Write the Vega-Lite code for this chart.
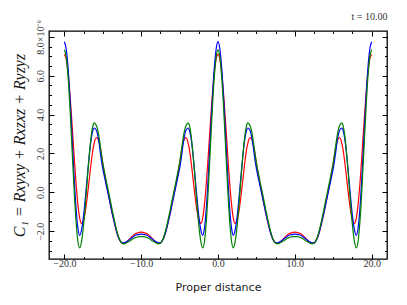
{
"$schema": "https://vega.github.io/schema/vega-lite/v6.json",
"width": 338, "height": 228,
"autosize": "none",
"padding": {"left": 49, "top": 31, "right": 20, "bottom": 46},
"background": "white",
"config": {"view": {"stroke": "#000", "strokeWidth": 1.3}, "axis": {"domain": false, "grid": false}},
"title": {"text": "t = 10.00", "anchor": "end", "font": "Liberation Serif", "fontSize": 10, "fontWeight": "normal", "color": "#333", "offset": -2},
"data": {"values": [
{"x":-20,"r":7.10,"b":7.75,"g":7.33},{"x":-19.75,"r":6.84,"b":7.35,"g":6.94},{"x":-19.5,"r":6.08,"b":6.30,"g":5.84},{"x":-19.25,"r":4.93,"b":4.70,"g":4.18},{"x":-19,"r":3.51,"b":2.85,"g":2.23},{"x":-18.75,"r":1.99,"b":0.95,"g":0.28},{"x":-18.5,"r":0.58,"b":-0.70,"g":-1.38},{"x":-18.25,"r":-0.58,"b":-1.80,"g":-2.49},{"x":-18,"r":-1.34,"b":-2.21,"g":-2.86},{"x":-17.75,"r":-1.60,"b":-1.90,"g":-2.50},{"x":-17.5,"r":-1.42,"b":-1.21,"g":-1.69},{"x":-17.25,"r":-0.92,"b":-0.22,"g":-0.55},{"x":-17,"r":-0.17,"b":0.88,"g":0.74},{"x":-16.75,"r":0.70,"b":1.93,"g":1.96},{"x":-16.5,"r":1.56,"b":2.76,"g":2.92},{"x":-16.25,"r":2.27,"b":3.23,"g":3.48},{"x":-16.1,"r":2.55,"b":3.31,"g":3.57},{"x":-16,"r":2.71,"b":3.29,"g":3.55},{"x":-15.8,"r":2.82,"b":3.16,"g":3.40},{"x":-15.75,"r":2.81,"b":3.10,"g":3.35},{"x":-15.5,"r":2.62,"b":2.60,"g":2.88},{"x":-15.25,"r":2.15,"b":1.85,"g":2.18},{"x":-15,"r":1.50,"b":1.22,"g":1.50},{"x":-14.75,"r":0.90,"b":0.75,"g":1.00},{"x":-14.5,"r":0.35,"b":0.28,"g":0.50},{"x":-14.25,"r":-0.15,"b":-0.18,"g":0.03},{"x":-14,"r":-0.65,"b":-0.65,"g":-0.45},{"x":-13.75,"r":-1.12,"b":-1.12,"g":-0.95},{"x":-13.5,"r":-1.55,"b":-1.55,"g":-1.42},{"x":-13.25,"r":-1.95,"b":-1.95,"g":-1.85},{"x":-13,"r":-2.27,"b":-2.28,"g":-2.22},{"x":-12.75,"r":-2.48,"b":-2.50,"g":-2.48},{"x":-12.5,"r":-2.60,"b":-2.60,"g":-2.62},{"x":-12.25,"r":-2.63,"b":-2.60,"g":-2.65},{"x":-12,"r":-2.58,"b":-2.56,"g":-2.62},{"x":-11.75,"r":-2.50,"b":-2.50,"g":-2.57},{"x":-11.5,"r":-2.40,"b":-2.42,"g":-2.51},{"x":-11.25,"r":-2.29,"b":-2.34,"g":-2.44},{"x":-11,"r":-2.20,"b":-2.27,"g":-2.38},{"x":-10.75,"r":-2.13,"b":-2.21,"g":-2.33},{"x":-10.5,"r":-2.09,"b":-2.18,"g":-2.30},{"x":-10.25,"r":-2.06,"b":-2.16,"g":-2.28},
{"x":-10,"r":-2.05,"b":-2.15,"g":-2.28},{"x":-9.75,"r":-2.06,"b":-2.16,"g":-2.28},{"x":-9.5,"r":-2.09,"b":-2.18,"g":-2.30},{"x":-9.25,"r":-2.13,"b":-2.21,"g":-2.33},{"x":-9,"r":-2.20,"b":-2.27,"g":-2.38},{"x":-8.75,"r":-2.29,"b":-2.34,"g":-2.44},{"x":-8.5,"r":-2.40,"b":-2.42,"g":-2.51},{"x":-8.25,"r":-2.50,"b":-2.50,"g":-2.57},{"x":-8,"r":-2.58,"b":-2.56,"g":-2.62},{"x":-7.75,"r":-2.63,"b":-2.60,"g":-2.65},{"x":-7.5,"r":-2.60,"b":-2.60,"g":-2.62},{"x":-7.25,"r":-2.48,"b":-2.50,"g":-2.48},{"x":-7,"r":-2.27,"b":-2.28,"g":-2.22},{"x":-6.75,"r":-1.95,"b":-1.95,"g":-1.85},{"x":-6.5,"r":-1.55,"b":-1.55,"g":-1.42},{"x":-6.25,"r":-1.12,"b":-1.12,"g":-0.95},{"x":-6,"r":-0.65,"b":-0.65,"g":-0.45},{"x":-5.75,"r":-0.15,"b":-0.18,"g":0.03},{"x":-5.5,"r":0.35,"b":0.28,"g":0.50},{"x":-5.25,"r":0.90,"b":0.75,"g":1.00},{"x":-5,"r":1.50,"b":1.22,"g":1.50},{"x":-4.75,"r":2.15,"b":1.85,"g":2.18},{"x":-4.5,"r":2.62,"b":2.60,"g":2.88},{"x":-4.25,"r":2.81,"b":3.10,"g":3.35},{"x":-4.2,"r":2.82,"b":3.16,"g":3.40},{"x":-4,"r":2.71,"b":3.29,"g":3.55},{"x":-3.9,"r":2.55,"b":3.31,"g":3.57},{"x":-3.75,"r":2.27,"b":3.23,"g":3.48},{"x":-3.5,"r":1.56,"b":2.76,"g":2.92},{"x":-3.25,"r":0.70,"b":1.93,"g":1.96},{"x":-3,"r":-0.17,"b":0.88,"g":0.74},{"x":-2.75,"r":-0.92,"b":-0.22,"g":-0.55},{"x":-2.5,"r":-1.42,"b":-1.21,"g":-1.69},{"x":-2.25,"r":-1.60,"b":-1.90,"g":-2.50},{"x":-2,"r":-1.34,"b":-2.21,"g":-2.86},{"x":-1.75,"r":-0.58,"b":-1.80,"g":-2.49},{"x":-1.5,"r":0.58,"b":-0.70,"g":-1.38},{"x":-1.25,"r":1.99,"b":0.95,"g":0.28},{"x":-1,"r":3.51,"b":2.85,"g":2.23},{"x":-0.75,"r":4.93,"b":4.70,"g":4.18},{"x":-0.5,"r":6.08,"b":6.30,"g":5.84},{"x":-0.25,"r":6.84,"b":7.35,"g":6.94},{"x":0,"r":7.10,"b":7.75,"g":7.33},
{"x":0.25,"r":6.84,"b":7.35,"g":6.94},{"x":0.5,"r":6.08,"b":6.30,"g":5.84},{"x":0.75,"r":4.93,"b":4.70,"g":4.18},{"x":1,"r":3.51,"b":2.85,"g":2.23},{"x":1.25,"r":1.99,"b":0.95,"g":0.28},{"x":1.5,"r":0.58,"b":-0.70,"g":-1.38},{"x":1.75,"r":-0.58,"b":-1.80,"g":-2.49},{"x":2,"r":-1.34,"b":-2.21,"g":-2.86},{"x":2.25,"r":-1.60,"b":-1.90,"g":-2.50},{"x":2.5,"r":-1.42,"b":-1.21,"g":-1.69},{"x":2.75,"r":-0.92,"b":-0.22,"g":-0.55},{"x":3,"r":-0.17,"b":0.88,"g":0.74},{"x":3.25,"r":0.70,"b":1.93,"g":1.96},{"x":3.5,"r":1.56,"b":2.76,"g":2.92},{"x":3.75,"r":2.27,"b":3.23,"g":3.48},{"x":3.9,"r":2.55,"b":3.31,"g":3.57},{"x":4,"r":2.71,"b":3.29,"g":3.55},{"x":4.2,"r":2.82,"b":3.16,"g":3.40},{"x":4.25,"r":2.81,"b":3.10,"g":3.35},{"x":4.5,"r":2.62,"b":2.60,"g":2.88},{"x":4.75,"r":2.15,"b":1.85,"g":2.18},{"x":5,"r":1.50,"b":1.22,"g":1.50},{"x":5.25,"r":0.90,"b":0.75,"g":1.00},{"x":5.5,"r":0.35,"b":0.28,"g":0.50},{"x":5.75,"r":-0.15,"b":-0.18,"g":0.03},{"x":6,"r":-0.65,"b":-0.65,"g":-0.45},{"x":6.25,"r":-1.12,"b":-1.12,"g":-0.95},{"x":6.5,"r":-1.55,"b":-1.55,"g":-1.42},{"x":6.75,"r":-1.95,"b":-1.95,"g":-1.85},{"x":7,"r":-2.27,"b":-2.28,"g":-2.22},{"x":7.25,"r":-2.48,"b":-2.50,"g":-2.48},{"x":7.5,"r":-2.60,"b":-2.60,"g":-2.62},{"x":7.75,"r":-2.63,"b":-2.60,"g":-2.65},{"x":8,"r":-2.58,"b":-2.56,"g":-2.62},{"x":8.25,"r":-2.50,"b":-2.50,"g":-2.57},{"x":8.5,"r":-2.40,"b":-2.42,"g":-2.51},{"x":8.75,"r":-2.29,"b":-2.34,"g":-2.44},{"x":9,"r":-2.20,"b":-2.27,"g":-2.38},{"x":9.25,"r":-2.13,"b":-2.21,"g":-2.33},{"x":9.5,"r":-2.09,"b":-2.18,"g":-2.30},{"x":9.75,"r":-2.06,"b":-2.16,"g":-2.28},{"x":10,"r":-2.05,"b":-2.15,"g":-2.28},
{"x":10.25,"r":-2.06,"b":-2.16,"g":-2.28},{"x":10.5,"r":-2.09,"b":-2.18,"g":-2.30},{"x":10.75,"r":-2.13,"b":-2.21,"g":-2.33},{"x":11,"r":-2.20,"b":-2.27,"g":-2.38},{"x":11.25,"r":-2.29,"b":-2.34,"g":-2.44},{"x":11.5,"r":-2.40,"b":-2.42,"g":-2.51},{"x":11.75,"r":-2.50,"b":-2.50,"g":-2.57},{"x":12,"r":-2.58,"b":-2.56,"g":-2.62},{"x":12.25,"r":-2.63,"b":-2.60,"g":-2.65},{"x":12.5,"r":-2.60,"b":-2.60,"g":-2.62},{"x":12.75,"r":-2.48,"b":-2.50,"g":-2.48},{"x":13,"r":-2.27,"b":-2.28,"g":-2.22},{"x":13.25,"r":-1.95,"b":-1.95,"g":-1.85},{"x":13.5,"r":-1.55,"b":-1.55,"g":-1.42},{"x":13.75,"r":-1.12,"b":-1.12,"g":-0.95},{"x":14,"r":-0.65,"b":-0.65,"g":-0.45},{"x":14.25,"r":-0.15,"b":-0.18,"g":0.03},{"x":14.5,"r":0.35,"b":0.28,"g":0.50},{"x":14.75,"r":0.90,"b":0.75,"g":1.00},{"x":15,"r":1.50,"b":1.22,"g":1.50},{"x":15.25,"r":2.15,"b":1.85,"g":2.18},{"x":15.5,"r":2.62,"b":2.60,"g":2.88},{"x":15.75,"r":2.81,"b":3.10,"g":3.35},{"x":15.8,"r":2.82,"b":3.16,"g":3.40},{"x":16,"r":2.71,"b":3.29,"g":3.55},{"x":16.1,"r":2.55,"b":3.31,"g":3.57},{"x":16.25,"r":2.27,"b":3.23,"g":3.48},{"x":16.5,"r":1.56,"b":2.76,"g":2.92},{"x":16.75,"r":0.70,"b":1.93,"g":1.96},{"x":17,"r":-0.17,"b":0.88,"g":0.74},{"x":17.25,"r":-0.92,"b":-0.22,"g":-0.55},{"x":17.5,"r":-1.42,"b":-1.21,"g":-1.69},{"x":17.75,"r":-1.60,"b":-1.90,"g":-2.50},{"x":18,"r":-1.34,"b":-2.21,"g":-2.86},{"x":18.25,"r":-0.58,"b":-1.80,"g":-2.49},{"x":18.5,"r":0.58,"b":-0.70,"g":-1.38},{"x":18.75,"r":1.99,"b":0.95,"g":0.28},{"x":19,"r":3.51,"b":2.85,"g":2.23},{"x":19.25,"r":4.93,"b":4.70,"g":4.18},{"x":19.5,"r":6.08,"b":6.30,"g":5.84},{"x":19.75,"r":6.84,"b":7.35,"g":6.94},{"x":20,"r":7.10,"b":7.75,"g":7.33}
]},
"transform": [{"fold": ["r", "b", "g"], "as": ["s", "v"]}],
"layer": [
{"mark": {"type": "line", "strokeWidth": 1.2, "interpolate": "monotone"},
 "encoding": {
  "x": {"field": "x", "type": "quantitative", "scale": {"domain": [-22, 22], "nice": false, "zero": false},
   "axis": {"orient": "bottom", "values": [-20,-17.5,-15,-12.5,-10,-7.5,-5,-2.5,0,2.5,5,7.5,10,12.5,15,17.5,20],
    "labelExpr": "datum.value % 10 === 0 ? format(datum.value, '.1f') : ''",
    "tickSize": {"condition": {"test": "datum.value % 10 === 0", "value": -5}, "value": -2.5},
    "tickColor": "#000", "tickWidth": 1, "labelFont": "Liberation Serif", "labelFontSize": 10, "labelColor": "#333",
    "labelPadding": 4, "labelFlush": false, "labelOverlap": false,
    "title": "Proper distance", "titleFont": "DejaVu Sans", "titleFontSize": 11, "titleFontWeight": "normal", "titleColor": "#222", "titlePadding": 11}},
  "y": {"field": "v", "type": "quantitative", "scale": {"domain": [-3.43, 8.3], "nice": false, "zero": false},
   "axis": {"orient": "left", "values": [-3,-2.5,-2,-1.5,-1,-0.5,0,0.5,1,1.5,2,2.5,3,3.5,4,4.5,5,5.5,6,6.5,7,7.5,8],
    "labelExpr": "datum.value === 8 ? '8.0×10⁻⁶' : (datum.value % 2 === 0 ? format(datum.value, '.1f') : '')",
    "tickSize": {"condition": {"test": "datum.value % 2 === 0", "value": -5}, "value": -2.5},
    "tickColor": "#000", "tickWidth": 1, "labelFont": "Liberation Serif", "labelFontSize": 10, "labelColor": "#333",
    "labelAngle": 270, "labelAlign": "center", "labelBaseline": "bottom", "labelPadding": 9, "labelFlush": false, "labelOverlap": false,
    "title": "C₁ = Rxyxy + Rxzxz + Ryzyz", "titleFont": "Liberation Serif", "titleFontSize": 16, "titleFontStyle": "italic", "titleFontWeight": "normal", "titleColor": "#111", "titlePadding": 5}},
  "color": {"field": "s", "type": "nominal", "scale": {"domain": ["r", "b", "g"], "range": ["#ff0000", "#0000ff", "#008000"]}, "legend": null}
 }},
{"mark": {"type": "line", "strokeOpacity": 0},
 "encoding": {
  "x": {"field": "x", "type": "quantitative",
   "axis": {"orient": "top", "values": [-20,-17.5,-15,-12.5,-10,-7.5,-5,-2.5,0,2.5,5,7.5,10,12.5,15,17.5,20], "labels": false, "title": null,
    "tickSize": {"condition": {"test": "datum.value % 10 === 0", "value": -5}, "value": -2.5}, "tickColor": "#000"}},
  "y": {"field": "v", "type": "quantitative",
   "axis": {"orient": "right", "values": [-3,-2.5,-2,-1.5,-1,-0.5,0,0.5,1,1.5,2,2.5,3,3.5,4,4.5,5,5.5,6,6.5,7,7.5,8], "labels": false, "title": null,
    "tickSize": {"condition": {"test": "datum.value % 2 === 0", "value": -5}, "value": -2.5}, "tickColor": "#000"}}
 }}
],
"resolve": {"axis": {"x": "independent", "y": "independent"}}
}
